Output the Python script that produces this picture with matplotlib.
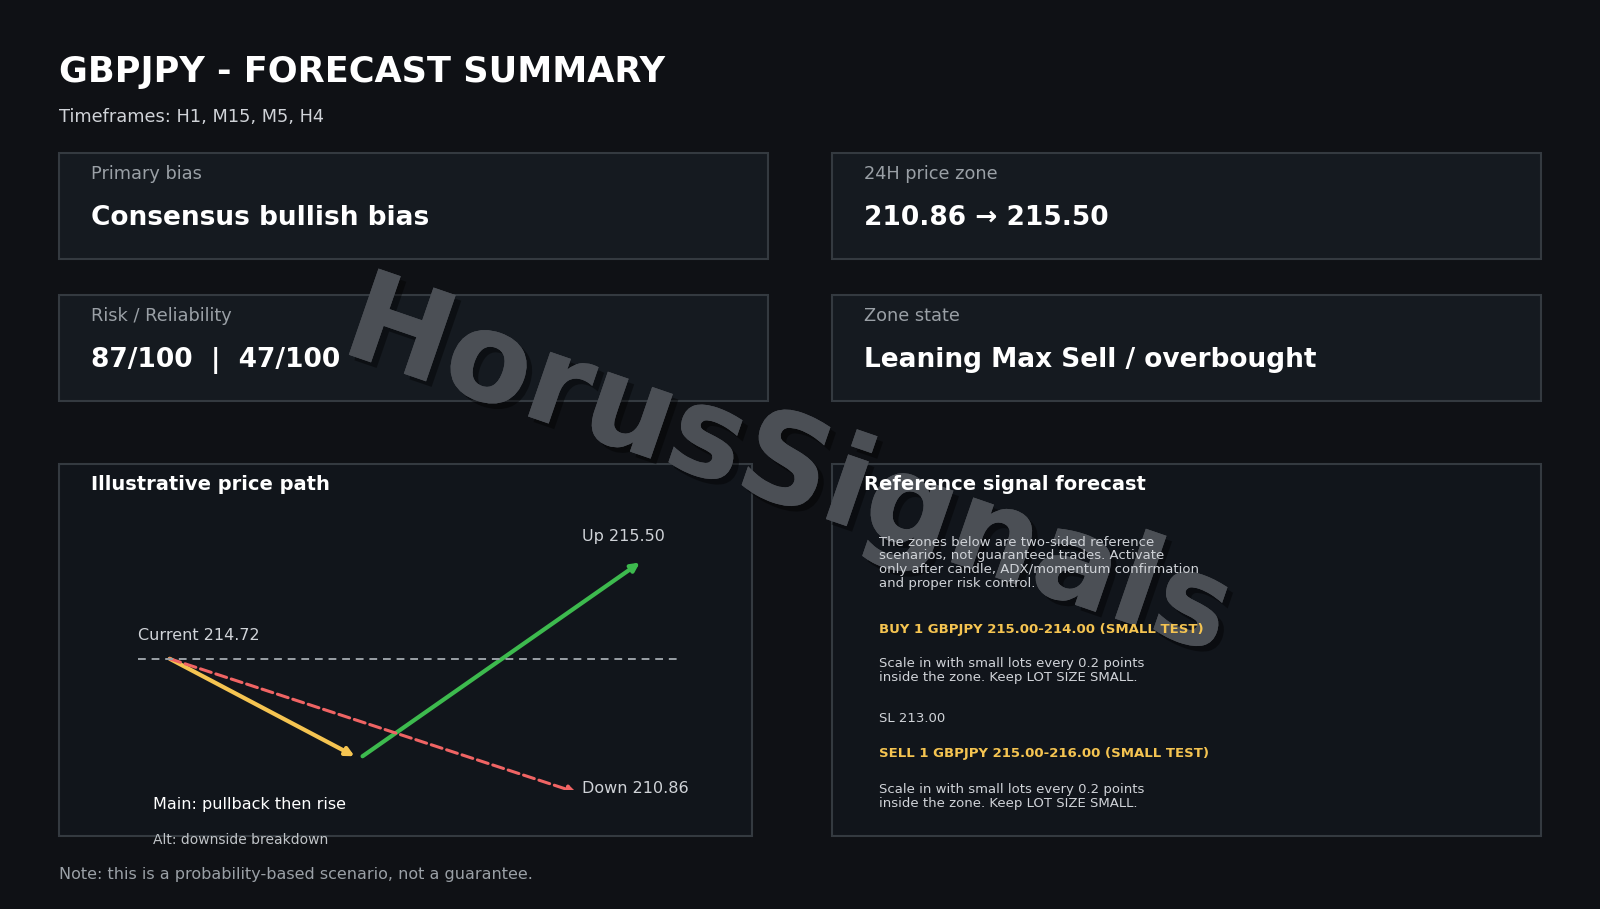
import matplotlib
matplotlib.use("Agg")
import matplotlib.pyplot as plt
from matplotlib.patches import Rectangle, FancyArrowPatch
import matplotlib.patheffects as pe

title = "GBPJPY - FORECAST SUMMARY"
timeframes = "Timeframes: H1, M15, M5, H4"
card_labels = ["Primary bias", "24H price zone", "Risk / Reliability", "Zone state"]
card_values = ["Consensus bullish bias", "210.86 \u2192 215.50", "87/100  |  47/100", "Leaning Max Sell / overbought"]
current_price = 214.72
up_price = 215.50
down_price = 210.86
# illustrative path (x step, relative level)
main_path_x = [0.0, 0.35, 0.365, 0.89]
main_path_y = [0.0, -0.78, -0.78, 0.77]
alt_path_x = [0.0, 0.77]
alt_path_y = [0.0, -1.07]

BG = "#0f1115"
fig = plt.figure(figsize=(16, 9.09), dpi=100, facecolor=BG)
ax = fig.add_axes([0, 0, 1, 1])
ax.set_xlim(0, 1600); ax.set_ylim(909, 0); ax.axis("off")
ax.set_facecolor(BG)

ax.text(59, 72, title, color="white", fontsize=25.3, fontweight="bold", va="center", zorder=3)
ax.text(59, 117, timeframes, color="#d0d3d8", fontsize=12.8, va="center", zorder=3)

cards = [(59, 153), (832, 153), (59, 295), (832, 295)]
for (x, y), lab, val in zip(cards, card_labels, card_values):
    ax.add_patch(Rectangle((x, y), 709, 106, facecolor="#151a20", edgecolor="#343a40", lw=1.5, zorder=1))
    ax.text(x + 32, y + 21, lab, color="#9aa0a6", fontsize=12.8, va="center", zorder=3)
    ax.text(x + 32, y + 65, val, color="white", fontsize=19, fontweight="bold", va="center", zorder=3)

for x, w in [(59, 693), (832, 709)]:
    ax.add_patch(Rectangle((x, 464), w, 372, facecolor="#11151b", edgecolor="#343a40", lw=1.5, zorder=1))
ax.text(91, 484, "Illustrative price path", color="white", fontsize=14, fontweight="bold", va="center", zorder=3)
ax.text(864, 484, "Reference signal forecast", color="white", fontsize=14, fontweight="bold", va="center", zorder=3)

# price path axes
pa = fig.add_axes([138/1600, 1-790/909, 560/1600, 250/909])
pa.axis("off")
pa.set_xlim(-0.06, 1.0); pa.set_ylim(-1.05, 0.95)
pa.plot([-0.06, 0.96], [0, 0], ls=(0, (4, 3)), color="#9aa0a6", lw=1.4)
def arrow(xs, ys, color, ls="-"):
    pa.add_patch(FancyArrowPatch((xs[0], ys[0]), (xs[1], ys[1]), arrowstyle="-|>", mutation_scale=12,
                                 color=color, lw=3 if ls == "-" else 2.2, linestyle=ls, shrinkA=0, shrinkB=0))
arrow(main_path_x[0:2], main_path_y[0:2], "#f5c451")
arrow(main_path_x[2:4], main_path_y[2:4], "#3dba4e")
arrow(alt_path_x, alt_path_y, "#f06464", ls="--")
pa.text(-0.06, 0.19, f"Current {current_price:.2f}", color="#d0d3d8", fontsize=11.5, va="center")
pa.text(0.78, 0.98, f"Up {up_price:.2f}", color="#d0d3d8", fontsize=11.5, va="center")
pa.text(0.78, -1.04, f"Down {down_price:.2f}", color="#d0d3d8", fontsize=11.5, va="center")

ax.text(153, 804, "Main: pullback then rise", color="white", fontsize=11.5, va="center", zorder=3)
ax.text(153, 840, "Alt: downside breakdown", color="#c0c4c8", fontsize=10, va="center", zorder=3)
ax.text(59, 875, "Note: this is a probability-based scenario, not a guarantee.", color="#9aa0a6", fontsize=11.5, va="center", zorder=3)

rx = 879
kw = dict(fontsize=9.5, va="center", linespacing=1.1, zorder=3)
ax.text(rx, 563, "The zones below are two-sided reference\nscenarios, not guaranteed trades. Activate\nonly after candle, ADX/momentum confirmation\nand proper risk control.",
        color="#d0d3d8", **kw)
ax.text(rx, 629, "BUY 1 GBPJPY 215.00-214.00 (SMALL TEST)", color="#f5c451", fontweight="bold", **kw)
ax.text(rx, 671, "Scale in with small lots every 0.2 points\ninside the zone. Keep LOT SIZE SMALL.", color="#d0d3d8", **kw)
ax.text(rx, 718, "SL 213.00", color="#d0d3d8", **kw)
ax.text(rx, 753, "SELL 1 GBPJPY 215.00-216.00 (SMALL TEST)", color="#f5c451", fontweight="bold", **kw)
ax.text(rx, 796, "Scale in with small lots every 0.2 points\ninside the zone. Keep LOT SIZE SMALL.", color="#d0d3d8", **kw)

ax.text(788, 470, "HorusSignals", color="#4b4f55", fontsize=90, fontweight="bold",
        ha="center", va="center", rotation=-19, rotation_mode="anchor", zorder=2,
        path_effects=[pe.withSimplePatchShadow(offset=(4, -4), shadow_rgbFace="black", alpha=0.4), pe.Normal()])

fig.savefig("out.png", dpi=100, facecolor=BG)
